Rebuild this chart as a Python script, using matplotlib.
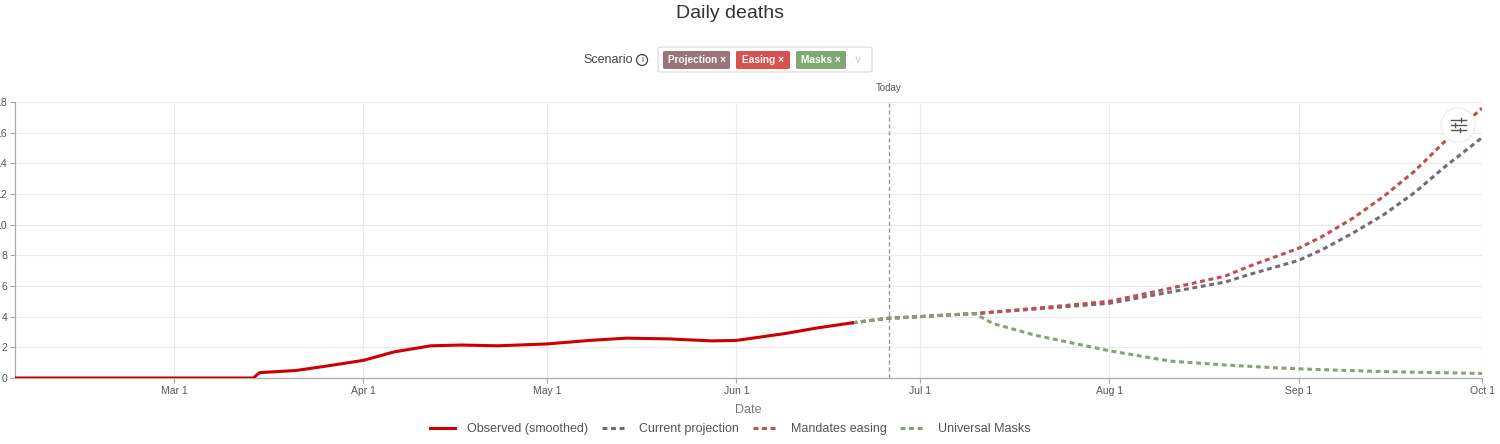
import datetime as dt
import matplotlib
matplotlib.use("Agg")
import matplotlib.pyplot as plt
from matplotlib.patches import FancyBboxPatch, Ellipse
from matplotlib.lines import Line2D

plt.rcParams["font.family"] = ["Liberation Sans", "DejaVu Sans"]

# observed (smoothed) daily deaths
obs_dates = ["2020-02-04", "2020-03-14", "2020-03-15", "2020-03-21", "2020-03-26",
             "2020-04-01", "2020-04-06", "2020-04-12", "2020-04-17", "2020-04-23",
             "2020-05-01", "2020-05-08", "2020-05-14", "2020-05-21", "2020-05-28",
             "2020-06-01", "2020-06-09", "2020-06-14", "2020-06-20"]
obs_values = [0, 0, 0.35, 0.49, 0.78,
              1.15, 1.7, 2.1, 2.15, 2.1,
              2.22, 2.45, 2.6, 2.55, 2.42,
              2.45, 2.9, 3.25, 3.6]

# scenario projections
proj_dates = ["2020-06-20", "2020-06-26", "2020-07-01", "2020-07-05", "2020-07-10",
              "2020-07-20", "2020-08-01", "2020-08-09", "2020-08-20", "2020-08-24",
              "2020-09-01", "2020-09-05", "2020-09-10", "2020-09-15", "2020-09-20",
              "2020-09-25", "2020-10-01"]
current_proj = [3.6, 3.9, 4.0, 4.1, 4.2,
                4.5, 4.87, 5.46, 6.26, 6.76,
                7.67, 8.4, 9.48, 10.67, 12.1,
                13.8, 15.67]
mandates_easing = [3.6, 3.9, 4.0, 4.1, 4.2,
                   4.55, 5.0, 5.67, 6.65, 7.3,
                   8.46, 9.26, 10.45, 11.87, 13.5,
                   15.46, 17.6]

masks_dates = ["2020-06-20", "2020-06-26", "2020-07-01", "2020-07-05", "2020-07-10",
               "2020-07-13", "2020-07-20", "2020-08-01", "2020-08-11", "2020-08-20",
               "2020-08-28", "2020-09-01", "2020-09-08", "2020-09-15", "2020-09-22",
               "2020-10-01"]
universal_masks = [3.6, 3.9, 4.0, 4.1, 4.2,
                   3.55, 2.78, 1.78, 1.1, 0.85,
                   0.67, 0.6, 0.5, 0.42, 0.36,
                   0.3]

today = "2020-06-26"
tick_dates = ["2020-03-01", "2020-04-01", "2020-05-01", "2020-06-01",
              "2020-07-01", "2020-08-01", "2020-09-01", "2020-10-01"]
tick_labels = ["Mar 1", "Apr 1", "May 1", "Jun 1", "Jul 1", "Aug 1", "Sep 1", "Oct 1"]
y_ticks = [0, 2, 4, 6, 8, 10, 12, 14, 16, 18]

chips = ["Projection", "Easing", "Masks"]
chip_colors = ["#9a7479", "#d8514d", "#80a872"]


def to_dates(lst):
    return [dt.datetime.strptime(s, "%Y-%m-%d") for s in lst]


W, H = 1500, 444
fig = plt.figure(figsize=(W / 100, H / 100), dpi=100)
ax = fig.add_axes([15 / W, 1 - 378 / H, (1482 - 15) / W, (378 - 102) / H])

def fx(px):
    return px / W

def fy(py):
    return 1 - py / H

dash = (1.6, 1.2)
ax.plot(to_dates(proj_dates), current_proj, color="#776b71", lw=2.2, dashes=dash,
        label="Current projection", zorder=3)
ax.plot(to_dates(proj_dates), mandates_easing, color="#c04f4d", lw=2.2, dashes=dash,
        label="Mandates easing", zorder=3)
ax.plot(to_dates(masks_dates), universal_masks, color="#87a278", lw=2.2, dashes=dash,
        label="Universal Masks", zorder=3)
ax.plot(to_dates(obs_dates), obs_values, color="#cc0000", lw=2.2,
        label="Observed (smoothed)", zorder=4, solid_joinstyle="round")

t = to_dates([today])[0]
ax.axvline(t, color="#999999", lw=1, ls=(0, (3, 2)), zorder=2)
ax.text(t, 18.6, "Today", ha="center", va="bottom", fontsize=7, color="#555555")

ax.set_xlim(dt.datetime(2020, 2, 4), dt.datetime(2020, 10, 1))
ax.set_ylim(0, 18)
ax.set_xticks(to_dates(tick_dates))
ax.set_xticklabels(tick_labels)
ax.set_yticks(y_ticks)
ax.tick_params(axis="both", labelsize=7.5, labelcolor="#555555", color="#aaaaaa",
               length=3.6, width=0.8, pad=2)
ax.grid(True, color="#ebebeb", lw=0.8)
ax.set_axisbelow(True)
for s in ["top", "right"]:
    ax.spines[s].set_visible(False)
for s in ["left", "bottom"]:
    ax.spines[s].set_color("#aaaaaa")
    ax.spines[s].set_linewidth(0.9)
ax.set_xlabel("Date", fontsize=9, color="#777777", labelpad=6)

# title
fig.text(fx(730), fy(14), "Daily deaths", ha="center", va="center",
         fontsize=14, color="#333333")

# scenario selector
fig.text(fx(633), fy(60), "Scenario", ha="right", va="center", fontsize=9, color="#444444")
fig.patches.append(Ellipse((fx(642), fy(60)), 11 / W, 11 / H, transform=fig.transFigure,
                           fill=False, edgecolor="#444444", lw=0.9))
fig.text(fx(642), fy(60), "i", ha="center", va="center", fontsize=6.5, color="#444444")
fig.patches.append(FancyBboxPatch((fx(658), fy(72)), (872 - 658) / W, 25 / H,
                                  boxstyle="round,pad=0,rounding_size=0.003",
                                  transform=fig.transFigure, facecolor="white",
                                  edgecolor="#dddddd", lw=0.9))
chip_x = [(663, 730), (736, 790), (796, 846)]
for name, col, (x0, x1) in zip(chips, chip_colors, chip_x):
    fig.patches.append(FancyBboxPatch((fx(x0), fy(69)), (x1 - x0) / W, 18 / H,
                                      boxstyle="round,pad=0,rounding_size=0.002",
                                      transform=fig.transFigure, facecolor=col,
                                      edgecolor="none"))
    fig.text(fx((x0 + x1) / 2), fy(60), name + " \u00d7", ha="center", va="center",
             fontsize=7.3, color="white", fontweight="bold")
fig.text(fx(858), fy(60), "\u2228", ha="center", va="center", fontsize=8, color="#cccccc",
         family="DejaVu Sans")

# settings icon
fig.patches.append(Ellipse((fx(1458), fy(125)), 34 / W, 34 / H, transform=fig.transFigure,
                           facecolor="white", edgecolor="#eeeeee", lw=1, zorder=5))
for yy, xm in [(120, 1461), (125, 1455), (130, 1460)]:
    fig.lines.append(Line2D([fx(1451), fx(1466)], [fy(yy), fy(yy)], transform=fig.transFigure,
                            color="#555555", lw=1, zorder=6))
    fig.lines.append(Line2D([fx(xm), fx(xm)], [fy(yy - 2), fy(yy + 2)], transform=fig.transFigure,
                            color="#555555", lw=1, zorder=6))

# legend
handles, labels = ax.get_legend_handles_labels()
order = [3, 0, 1, 2]
leg = fig.legend([handles[i] for i in order], [labels[i] for i in order],
                 loc="center", bbox_to_anchor=(fx(730), fy(429)), ncol=4, frameon=False,
                 fontsize=9, handlelength=2.0, columnspacing=1.1, handletextpad=1.0)
for txt in leg.get_texts():
    txt.set_color("#555555")

fig.savefig("out.png", dpi=100)
